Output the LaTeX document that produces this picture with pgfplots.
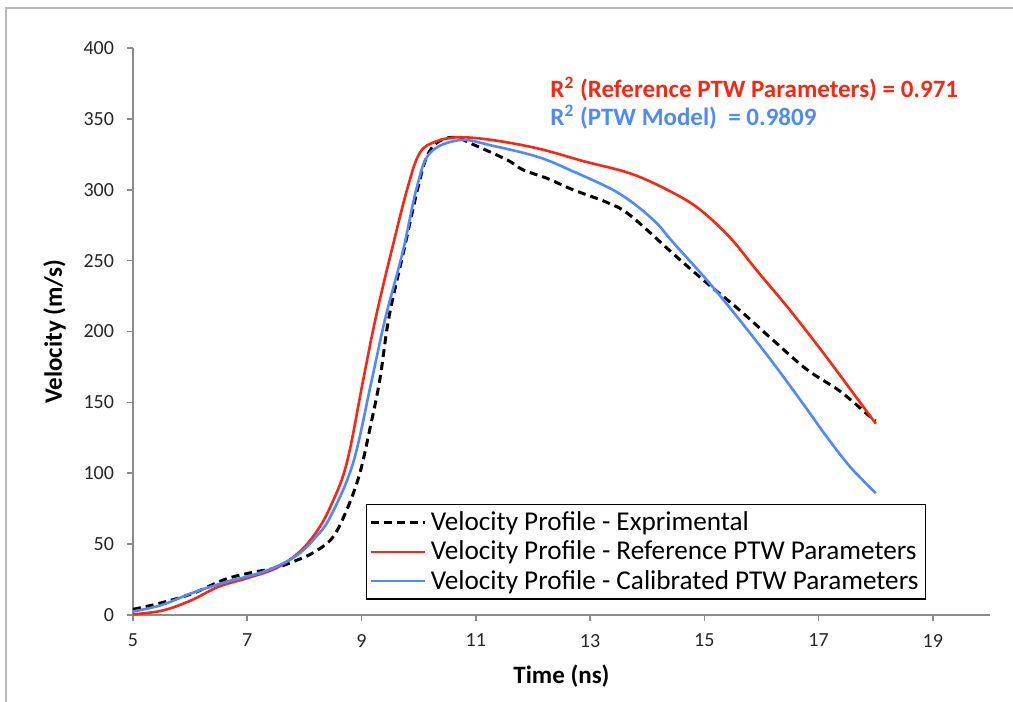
\documentclass[border=0pt]{standalone}
\usepackage{fontspec}
\setmainfont{Carlito}
\usepackage{pgfplots}
\pgfplotsset{compat=1.18}
\definecolor{redline}{RGB}{250,38,20}
\definecolor{blueline}{RGB}{80,138,250}
\definecolor{axgray}{RGB}{140,140,140}
\begin{document}
\begin{tikzpicture}
\useasboundingbox (0pt,0pt) rectangle (506.5pt,351pt);
\draw[axgray!60, line width=1.1pt] (3pt,-10pt) rectangle (520pt,347pt);
\begin{axis}[
  at={(66.5pt,43.5pt)}, anchor=south west,
  scale only axis, width=428.5pt, height=283.5pt,
  xmin=5, xmax=20, ymin=0, ymax=400,
  axis x line=bottom, axis y line=left,
  axis line style={-, axgray, line width=0.8pt},
  xtick={5,7,...,19}, ytick={0,50,...,400},
  tick align=outside, major tick length=3pt,
  tick style={axgray, line width=0.8pt},
  /pgf/number format/assume math mode=true,
  ticklabel style={font=\fontsize{10}{12}\selectfont, text=black!85},
  xticklabel style={yshift=-3pt},
  yticklabel style={xshift=-3pt},
  xlabel={\textbf{Time (ns)}},
  ylabel={\textbf{Velocity (m/s)}},
  label style={font=\fontsize{12.5}{14}\selectfont},
  xlabel style={yshift=-2pt},
  ylabel style={yshift=2pt},
  legend style={at={(axis cs:9.08,78.3)}, anchor=north west, draw=black, line width=0.6pt,
    font=\fontsize{13.6}{14}\selectfont, inner sep=1.5pt, row sep=-0.3pt,
    cells={anchor=west}},
  legend image code/.code={\draw[#1] (0cm,0cm) -- (0.95cm,0cm);},
  clip=false,
]
\addplot[black, line width=1.5pt, dash pattern=on 4pt off 2.5pt, smooth, tension=0.6] coordinates {
(5,4) (5.44,8) (6.03,15) (6.6,25) (7.08,30) (7.48,33) (7.89,39) (8.2,45) (8.5,55)
(8.75,75) (8.97,100) (9.15,132) (9.32,166) (9.48,210) (9.74,257) (9.99,302) (10.15,324)
(10.35,334) (10.64,337) (10.95,332) (11.55,321) (11.83,314) (12.25,308) (12.7,300)
(13.3,291) (13.7,282) (14.45,255) (15.05,234) (15.62,215) (16.2,194) (16.8,173)
(17.37,158) (17.9,140) (18,137)};
\addlegendentry{Velocity Profile - Exprimental}
\addplot[redline, line width=1.3pt, smooth, tension=0.6] coordinates {
(5,0.5) (5.5,3) (6,10) (6.5,20) (7,26) (7.5,33) (7.9,44) (8.2,58) (8.45,76)
(8.74,107) (9.03,166) (9.25,210) (9.52,256) (9.81,302) (10.02,326) (10.3,334)
(10.7,337) (11.3,335) (12.1,329) (12.9,320) (13.5,314) (13.87,309) (14.3,301)
(14.75,291) (15.1,280) (15.5,264) (15.92,243) (16.5,215) (17.08,185) (17.67,153) (18,135)};
\addlegendentry{Velocity Profile - Reference PTW Parameters}
\addplot[blueline, line width=1.3pt, smooth, tension=0.6] coordinates {
(5,2.5) (5.5,7) (6,15) (6.6,23) (7.08,28) (7.5,34) (7.9,43) (8.2,55) (8.45,69)
(8.85,107) (9.18,166) (9.42,210) (9.72,256) (9.97,302) (10.2,326) (10.72,335)
(11.3,331) (12.1,323) (12.7,313) (13.3,302) (13.6,295) (13.9,286) (14.2,275)
(14.45,263) (15.05,236) (15.62,208) (16.2,178) (16.8,145) (17.1,128) (17.5,107)
(17.8,94) (18,86)};
\addlegendentry{Velocity Profile - Calibrated PTW Parameters}
\node[anchor=west, text=redline, font=\bfseries\fontsize{12.5}{14}\selectfont, inner sep=0pt] at (axis cs:12.3,371) {R\textsuperscript{2} (Reference PTW Parameters) = 0.971};
\node[anchor=west, text=blueline, font=\bfseries\fontsize{12.5}{14}\selectfont, inner sep=0pt] at (axis cs:12.3,351) {R\textsuperscript{2} (PTW Model)~~= 0.9809};
\end{axis}
\end{tikzpicture}
\end{document}
